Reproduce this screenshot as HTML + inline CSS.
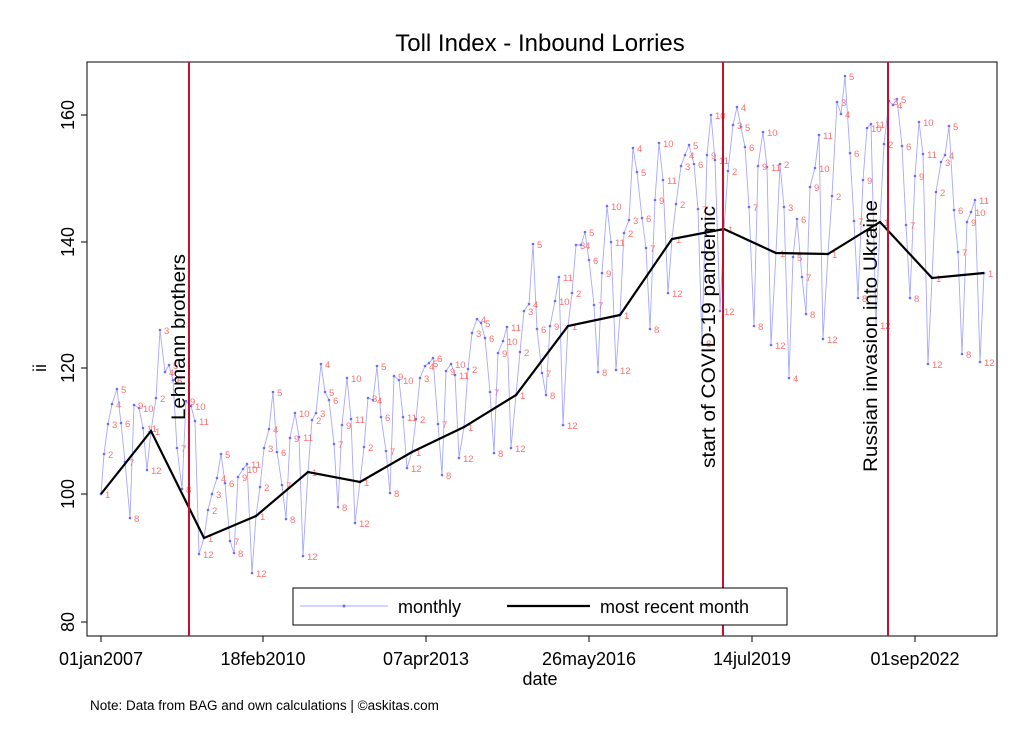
<!DOCTYPE html>
<html><head><meta charset="utf-8"><style>
html,body{margin:0;padding:0;background:#fff;}
svg{display:block;font-family:"Liberation Sans",Arial,sans-serif;}
.l text{font-size:9.5px;fill:#ff6f6f;}
</style></head><body>
<svg width="1024" height="745" viewBox="0 0 1024 745">
<defs><marker id="d" markerWidth="4" markerHeight="4" refX="2" refY="2" markerUnits="userSpaceOnUse"><circle cx="2" cy="2" r="1.3" fill="#6b6bff"/></marker></defs>
<rect x="0" y="0" width="1024" height="745" fill="#fff"/>
<text x="540" y="51" font-size="24" text-anchor="middle">Toll Index - Inbound Lorries</text>
<rect x="87" y="62" width="910" height="574" fill="none" stroke="#000" stroke-width="1"/>
<g stroke="#000" stroke-width="1">
<line x1="81" y1="622" x2="87" y2="622"/><line x1="81" y1="494" x2="87" y2="494"/><line x1="81" y1="368" x2="87" y2="368"/><line x1="81" y1="242" x2="87" y2="242"/><line x1="81" y1="115" x2="87" y2="115"/>
<line x1="101" y1="636" x2="101" y2="642"/><line x1="263" y1="636" x2="263" y2="642"/><line x1="426" y1="636" x2="426" y2="642"/><line x1="589" y1="636" x2="589" y2="642"/><line x1="752" y1="636" x2="752" y2="642"/><line x1="915" y1="636" x2="915" y2="642"/>
</g>
<g font-size="18" text-anchor="middle">
<text transform="translate(74,622) rotate(-90)">80</text>
<text transform="translate(74,494) rotate(-90)">100</text>
<text transform="translate(74,368) rotate(-90)">120</text>
<text transform="translate(74,242) rotate(-90)">140</text>
<text transform="translate(74,115) rotate(-90)">160</text>
<text transform="translate(46,368) rotate(-90)">ii</text>
<text x="101" y="665">01jan2007</text><text x="263" y="665">18feb2010</text><text x="426" y="665">07apr2013</text><text x="589" y="665">26may2016</text><text x="752" y="665">14jul2019</text><text x="915" y="665">01sep2022</text>
<text x="540" y="685">date</text>
</g>
<text x="90" y="710" font-size="13.5">Note: Data from BAG and own calculations | ©askitas.com</text>
<polyline fill="none" stroke="#a8a8ff" stroke-width="0.9" marker-start="url(#d)" marker-mid="url(#d)" marker-end="url(#d)" points="101,494 104,454 108,424 112,404 117,389 121,423 125,462 130,518 134,405 139,408 143,428 147,470 151,431 156,398 160,330 165,372 169,365 173,380 177,448 182,489 186,401 191,406 195,421 199,554 204,538 208,510 212,494 217,478 221,454 225,483 230,541 234,553 238,477 243,469 247,464 252,573 256,516 260,487 264,448 269,429 273,392 277,452 282,485 286,519 290,438 295,413 299,437 303,556 308,472 312,420 316,413 321,364 325,392 329,400 334,444 338,507 342,425 347,378 351,419 355,523 360,482 364,447 368,398 373,400 377,366 381,417 386,451 390,493 394,376 399,380 403,417 407,468 412,452 416,419 420,378 425,366 429,363 433,358 438,424 442,475 446,371 451,364 455,375 459,458 464,427 468,369 472,333 477,319 481,323 485,338 490,392 494,453 498,353 503,341 507,327 511,448 516,395 520,352 524,311 529,304 533,244 537,329 542,373 546,395 550,326 555,301 559,277 563,425 568,326 572,293 576,245 581,245 585,232 589,260 594,305 598,372 602,273 607,206 611,242 616,370 620,315 624,233 629,220 633,148 637,172 642,218 646,248 650,329 655,200 659,143 663,180 668,293 672,239 676,204 681,166 685,155 689,145 694,164 698,209 702,343 707,155 711,115 715,160 720,311 724,229 728,171 733,125 737,107 741,127 745,147 749,207 754,326 758,166 763,132 767,167 771,345 776,253 780,164 784,207 789,378 793,257 797,219 802,277 806,314 810,187 815,168 819,135 823,339 828,254 832,196 837,102 841,114 845,76 850,153 854,221 858,298 863,180 867,128 871,124 876,325 880,222 884,144 889,101 893,105 897,99 902,146 906,225 910,298 915,176 919,122 923,154 928,364 932,278 936,192 941,162 945,155 949,126 954,210 958,252 962,354 967,222 971,212 975,200 980,362 984,273"/>
<g class="l">
<text x="105" y="498">1</text><text x="108" y="458">2</text><text x="112" y="428">3</text><text x="116" y="408">4</text><text x="121" y="393">5</text><text x="125" y="427">6</text><text x="129" y="466">7</text><text x="134" y="522">8</text><text x="138" y="409">9</text><text x="143" y="412">10</text><text x="147" y="432">11</text><text x="151" y="474">12</text>
<text x="155" y="435">1</text><text x="160" y="402">2</text><text x="164" y="334">3</text><text x="169" y="376">4</text><text x="173" y="369">5</text><text x="177" y="384">6</text><text x="181" y="452">7</text><text x="186" y="493">8</text><text x="190" y="405">9</text><text x="195" y="410">10</text><text x="199" y="425">11</text><text x="203" y="558">12</text>
<text x="208" y="542">1</text><text x="212" y="514">2</text><text x="216" y="498">3</text><text x="221" y="482">4</text><text x="225" y="458">5</text><text x="229" y="487">6</text><text x="234" y="545">7</text><text x="238" y="557">8</text><text x="242" y="481">9</text><text x="247" y="473">10</text><text x="251" y="468">11</text><text x="256" y="577">12</text>
<text x="260" y="520">1</text><text x="264" y="491">2</text><text x="268" y="452">3</text><text x="273" y="433">4</text><text x="277" y="396">5</text><text x="281" y="456">6</text><text x="286" y="489">7</text><text x="290" y="523">8</text><text x="294" y="442">9</text><text x="299" y="417">10</text><text x="303" y="441">11</text><text x="307" y="560">12</text>
<text x="312" y="476">1</text><text x="316" y="424">2</text><text x="320" y="417">3</text><text x="325" y="368">4</text><text x="329" y="396">5</text><text x="333" y="404">6</text><text x="338" y="448">7</text><text x="342" y="511">8</text><text x="346" y="429">9</text><text x="351" y="382">10</text><text x="355" y="423">11</text><text x="359" y="527">12</text>
<text x="364" y="486">1</text><text x="368" y="451">2</text><text x="372" y="402">3</text><text x="377" y="404">4</text><text x="381" y="370">5</text><text x="385" y="421">6</text><text x="390" y="455">7</text><text x="394" y="497">8</text><text x="398" y="380">9</text><text x="403" y="384">10</text><text x="407" y="421">11</text><text x="411" y="472">12</text>
<text x="416" y="456">1</text><text x="420" y="423">2</text><text x="424" y="382">3</text><text x="429" y="370">4</text><text x="433" y="367">5</text><text x="437" y="362">6</text><text x="442" y="428">7</text><text x="446" y="479">8</text><text x="450" y="375">9</text><text x="455" y="368">10</text><text x="459" y="379">11</text><text x="463" y="462">12</text>
<text x="468" y="431">1</text><text x="472" y="373">2</text><text x="476" y="337">3</text><text x="481" y="323">4</text><text x="485" y="327">5</text><text x="489" y="342">6</text><text x="494" y="396">7</text><text x="498" y="457">8</text><text x="502" y="357">9</text><text x="507" y="345">10</text><text x="511" y="331">11</text><text x="515" y="452">12</text>
<text x="520" y="399">1</text><text x="524" y="356">2</text><text x="528" y="315">3</text><text x="533" y="308">4</text><text x="537" y="248">5</text><text x="541" y="333">6</text><text x="546" y="377">7</text><text x="550" y="399">8</text><text x="554" y="330">9</text><text x="559" y="305">10</text><text x="563" y="281">11</text><text x="567" y="429">12</text>
<text x="572" y="330">1</text><text x="576" y="297">2</text><text x="580" y="249">3</text><text x="585" y="249">4</text><text x="589" y="236">5</text><text x="593" y="264">6</text><text x="598" y="309">7</text><text x="602" y="376">8</text><text x="606" y="277">9</text><text x="611" y="210">10</text><text x="615" y="246">11</text><text x="620" y="374">12</text>
<text x="624" y="319">1</text><text x="628" y="237">2</text><text x="633" y="224">3</text><text x="637" y="152">4</text><text x="641" y="176">5</text><text x="646" y="222">6</text><text x="650" y="252">7</text><text x="654" y="333">8</text><text x="659" y="204">9</text><text x="663" y="147">10</text><text x="667" y="184">11</text><text x="672" y="297">12</text>
<text x="676" y="243">1</text><text x="680" y="208">2</text><text x="685" y="170">3</text><text x="689" y="159">4</text><text x="693" y="149">5</text><text x="698" y="168">6</text><text x="702" y="213">7</text><text x="706" y="347">8</text><text x="711" y="159">9</text><text x="715" y="119">10</text><text x="719" y="164">11</text><text x="724" y="315">12</text>
<text x="728" y="233">1</text><text x="732" y="175">2</text><text x="737" y="129">3</text><text x="741" y="111">4</text><text x="745" y="131">5</text><text x="749" y="151">6</text><text x="753" y="211">7</text><text x="758" y="330">8</text><text x="762" y="170">9</text><text x="767" y="136">10</text><text x="771" y="171">11</text><text x="775" y="349">12</text>
<text x="780" y="257">1</text><text x="784" y="168">2</text><text x="788" y="211">3</text><text x="793" y="382">4</text><text x="797" y="261">5</text><text x="801" y="223">6</text><text x="806" y="281">7</text><text x="810" y="318">8</text><text x="814" y="191">9</text><text x="819" y="172">10</text><text x="823" y="139">11</text><text x="827" y="343">12</text>
<text x="832" y="258">1</text><text x="836" y="200">2</text><text x="841" y="106">3</text><text x="845" y="118">4</text><text x="849" y="80">5</text><text x="854" y="157">6</text><text x="858" y="225">7</text><text x="862" y="302">8</text><text x="867" y="184">9</text><text x="871" y="132">10</text><text x="875" y="128">11</text><text x="880" y="329">12</text>
<text x="884" y="226">1</text><text x="888" y="148">2</text><text x="893" y="105">3</text><text x="897" y="109">4</text><text x="901" y="103">5</text><text x="906" y="150">6</text><text x="910" y="229">7</text><text x="914" y="302">8</text><text x="919" y="180">9</text><text x="923" y="126">10</text><text x="927" y="158">11</text><text x="932" y="368">12</text>
<text x="936" y="282">1</text><text x="940" y="196">2</text><text x="945" y="166">3</text><text x="949" y="159">4</text><text x="953" y="130">5</text><text x="958" y="214">6</text><text x="962" y="256">7</text><text x="966" y="358">8</text><text x="971" y="226">9</text><text x="975" y="216">10</text><text x="979" y="204">11</text><text x="984" y="366">12</text>
<text x="988" y="277">1</text>
</g>
<polyline fill="none" stroke="#000" stroke-width="2.2" points="101,494 151,431 204,538 256,516 308,472 360,482 412,452 464,427 516,395 568,326 620,315 672,239 724,229 776,253 828,254 880,222 932,278 984,273"/>
<g stroke="#c8102e" stroke-width="2">
<line x1="189" y1="62" x2="189" y2="636"/><line x1="723" y1="62" x2="723" y2="636"/><line x1="888" y1="62" x2="888" y2="636"/>
</g>
<g font-size="19.5">
<text transform="translate(185,420) rotate(-90)" textLength="166" lengthAdjust="spacingAndGlyphs">Lehmann brothers</text>
<text transform="translate(715,468) rotate(-90)" textLength="262" lengthAdjust="spacingAndGlyphs">start of COVID-19 pandemic</text>
<text transform="translate(877,472) rotate(-90)" textLength="272" lengthAdjust="spacingAndGlyphs">Russian invasion into Ukraine</text>
</g>
<rect x="293" y="588" width="494" height="37" fill="#fff" stroke="#000" stroke-width="1"/>
<line x1="300" y1="606" x2="388" y2="606" stroke="#a8a8ff" stroke-width="1"/>
<circle cx="344" cy="606" r="1.5" fill="#6b6bff"/>
<text x="398" y="613" font-size="18">monthly</text>
<line x1="507" y1="606" x2="590" y2="606" stroke="#000" stroke-width="2.2"/>
<text x="600" y="613" font-size="18">most recent month</text>
</svg>
</body></html>
